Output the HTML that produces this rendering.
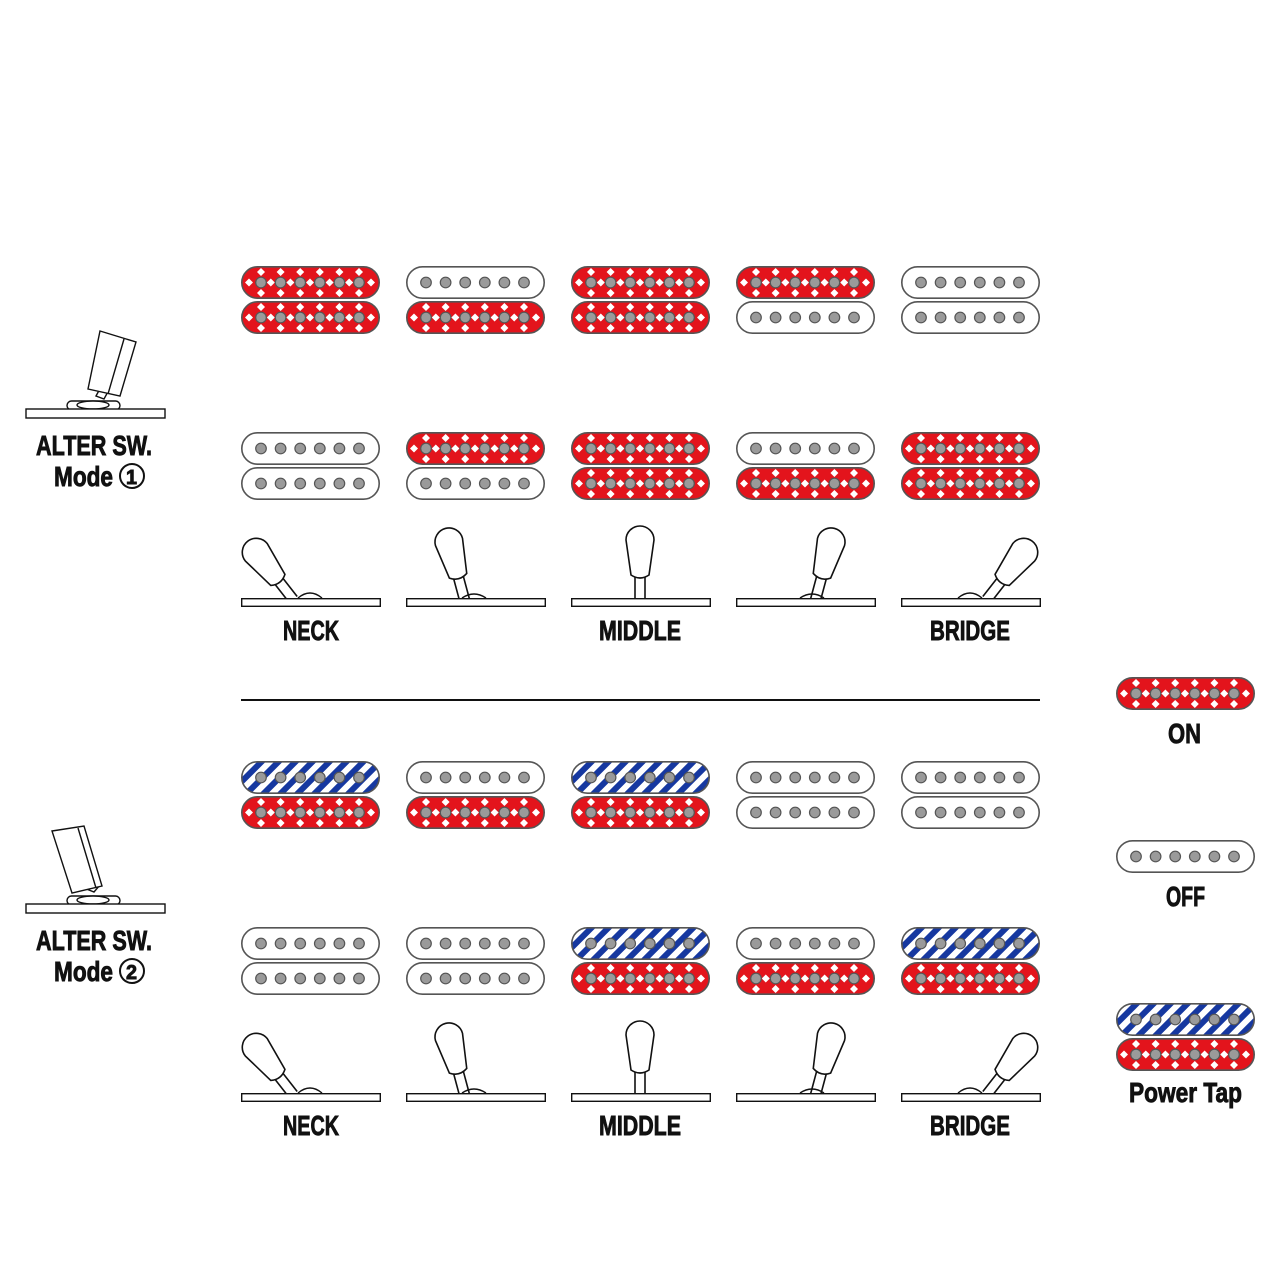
<!DOCTYPE html>
<html><head><meta charset="utf-8"><style>
html,body{margin:0;padding:0;background:#fff}
svg{display:block}
text{font-family:"Liberation Sans",sans-serif;font-weight:bold;fill:#111;stroke:#111;stroke-width:0.9}
</style></head><body>
<svg width="1280" height="1280" viewBox="0 0 1280 1280" xmlns="http://www.w3.org/2000/svg">
<defs>
<pattern id="pb" width="12" height="12" patternUnits="userSpaceOnUse" patternTransform="rotate(45)">
<rect width="12" height="12" fill="#fff"/><rect width="6" height="12" fill="#1638a0"/>
</pattern>
<g id="poles"><g fill="#9a9a9a" stroke="#555" stroke-width="1.2">
<circle cx="20" cy="16.5" r="5.3"/><circle cx="39.6" cy="16.5" r="5.3"/><circle cx="59.2" cy="16.5" r="5.3"/><circle cx="78.8" cy="16.5" r="5.3"/><circle cx="98.4" cy="16.5" r="5.3"/><circle cx="118" cy="16.5" r="5.3"/></g></g>
<g id="R"><rect x="0.8" y="0.8" width="137.4" height="31.4" rx="15.7" fill="#e3141c" stroke="#555" stroke-width="1.6"/>
<g fill="#fff">
<path d="M20,2 l4,4 -4,4 -4,-4z M39.6,2 l4,4 -4,4 -4,-4z M59.2,2 l4,4 -4,4 -4,-4z M78.8,2 l4,4 -4,4 -4,-4z M98.4,2 l4,4 -4,4 -4,-4z M118,2 l4,4 -4,4 -4,-4z M20,23 l4,4 -4,4 -4,-4z M39.6,23 l4,4 -4,4 -4,-4z M59.2,23 l4,4 -4,4 -4,-4z M78.8,23 l4,4 -4,4 -4,-4z M98.4,23 l4,4 -4,4 -4,-4z M118,23 l4,4 -4,4 -4,-4z"/>
<path d="M8,12.5 l4,4 -4,4 -4,-4z M29.8,12.5 l4,4 -4,4 -4,-4z M49.4,12.5 l4,4 -4,4 -4,-4z M69,12.5 l4,4 -4,4 -4,-4z M88.6,12.5 l4,4 -4,4 -4,-4z M108.2,12.5 l4,4 -4,4 -4,-4z M130,12.5 l4,4 -4,4 -4,-4z"/></g>
<use href="#poles"/></g>
<g id="W"><rect x="0.8" y="0.8" width="137.4" height="31.4" rx="15.7" fill="#fff" stroke="#555" stroke-width="1.6"/><use href="#poles"/></g>
<g id="B"><rect x="0.8" y="0.8" width="137.4" height="31.4" rx="15.7" fill="url(#pb)" stroke="#555" stroke-width="1.6"/><use href="#poles"/></g>
<g id="lever" fill="#fff" stroke="#111" stroke-width="1.6">
<path d="M-5,2 L-5,-24 M5,2 L5,-24" fill="none"/>
<path d="M-9,-23 L-14,-58 A14,14 0 0 1 14,-58 L9,-23 Q0,-17 -9,-23 Z"/></g>
<g id="sw" fill="#fff" stroke="#111" stroke-width="1.4"><rect x="0.7" y="0.7" width="138.6" height="7.6"/></g>
</defs>

<use href="#R" x="241" y="266"/><use href="#R" x="241" y="301"/>
<use href="#W" x="406" y="266"/><use href="#R" x="406" y="301"/>
<use href="#R" x="571" y="266"/><use href="#R" x="571" y="301"/>
<use href="#R" x="736" y="266"/><use href="#W" x="736" y="301"/>
<use href="#W" x="901" y="266"/><use href="#W" x="901" y="301"/>
<use href="#W" x="241" y="432"/><use href="#W" x="241" y="467"/>
<use href="#R" x="406" y="432"/><use href="#W" x="406" y="467"/>
<use href="#R" x="571" y="432"/><use href="#R" x="571" y="467"/>
<use href="#W" x="736" y="432"/><use href="#R" x="736" y="467"/>
<use href="#R" x="901" y="432"/><use href="#R" x="901" y="467"/>
<use href="#B" x="241" y="761"/><use href="#R" x="241" y="796"/>
<use href="#W" x="406" y="761"/><use href="#R" x="406" y="796"/>
<use href="#B" x="571" y="761"/><use href="#R" x="571" y="796"/>
<use href="#W" x="736" y="761"/><use href="#W" x="736" y="796"/>
<use href="#W" x="901" y="761"/><use href="#W" x="901" y="796"/>
<use href="#W" x="241" y="927"/><use href="#W" x="241" y="962"/>
<use href="#W" x="406" y="927"/><use href="#W" x="406" y="962"/>
<use href="#B" x="571" y="927"/><use href="#R" x="571" y="962"/>
<use href="#W" x="736" y="927"/><use href="#R" x="736" y="962"/>
<use href="#B" x="901" y="927"/><use href="#R" x="901" y="962"/>
<use href="#R" x="1116" y="677"/>
<use href="#W" x="1116" y="840"/>
<use href="#B" x="1116" y="1003"/><use href="#R" x="1116" y="1038"/>
<text x="1168" y="743" font-size="28" textLength="33" lengthAdjust="spacingAndGlyphs">ON</text>
<text x="1166" y="906" font-size="28" textLength="39" lengthAdjust="spacingAndGlyphs">OFF</text>
<text x="1129" y="1102" font-size="28" textLength="113" lengthAdjust="spacingAndGlyphs">Power Tap</text>

<line x1="241" y1="700" x2="1040" y2="700" stroke="#111" stroke-width="2"/>

<g id="sel">
<g fill="#fff" stroke="#111" stroke-width="1.4">
<path d="M298,598 Q310,588 322,598"/><path d="M462,598 Q474,590 486,598"/>
<path d="M800,598 Q812,590 824,598"/><path d="M958,598 Q970,588 982,598"/>
</g>
<use href="#lever" transform="translate(292,598) rotate(-38)"/>
<use href="#lever" transform="translate(464,598) rotate(-15)"/>
<use href="#lever" transform="translate(640,598)"/>
<use href="#lever" transform="translate(816,598) rotate(15)"/>
<use href="#lever" transform="translate(988,598) rotate(38)"/>
<use href="#sw" x="241" y="598"/><use href="#sw" x="406" y="598"/><use href="#sw" x="571" y="598"/><use href="#sw" x="736" y="598"/><use href="#sw" x="901" y="598"/>
<text x="283" y="640" font-size="28" textLength="56" lengthAdjust="spacingAndGlyphs">NECK</text>
<text x="599" y="640" font-size="28" textLength="82" lengthAdjust="spacingAndGlyphs">MIDDLE</text>
<text x="930" y="640" font-size="28" textLength="80" lengthAdjust="spacingAndGlyphs">BRIDGE</text>
</g>
<use href="#sel" y="495"/>

<g fill="#fff" stroke="#111" stroke-width="1.4">
<path d="M96,396 L102,385 L110,388 L104,399 Z"/>
<path d="M100,331 L136,342 L120,396 L88,389 Z"/>
<path d="M124,339 L108,394"/>
<rect x="67" y="401" width="53" height="9" rx="4.5"/>
<ellipse cx="93" cy="405" rx="16" ry="4"/>
<rect x="26" y="409" width="139" height="9"/>
<path d="M84,888 L92,880 L100,885 L94,892 Z"/>
<path d="M52,831 L84,826 L102,886 L72,893 Z"/>
<path d="M78,828 L96,888"/>
<rect x="67" y="896" width="53" height="9" rx="4.5"/>
<ellipse cx="93" cy="900" rx="16" ry="4"/>
<rect x="26" y="904" width="139" height="9"/>
</g>
<text x="36" y="455" font-size="28" textLength="116" lengthAdjust="spacingAndGlyphs">ALTER SW.</text>
<text x="54" y="486" font-size="28" textLength="59" lengthAdjust="spacingAndGlyphs">Mode</text>
<circle cx="132" cy="476" r="12" fill="none" stroke="#111" stroke-width="2"/>
<text x="126" y="484" font-size="20" textLength="11" lengthAdjust="spacingAndGlyphs">1</text>
<text x="36" y="950" font-size="28" textLength="116" lengthAdjust="spacingAndGlyphs">ALTER SW.</text>
<text x="54" y="981" font-size="28" textLength="59" lengthAdjust="spacingAndGlyphs">Mode</text>
<circle cx="132" cy="971" r="12" fill="none" stroke="#111" stroke-width="2"/>
<text x="126" y="979" font-size="20" textLength="11" lengthAdjust="spacingAndGlyphs">2</text>
</svg>
</body></html>
